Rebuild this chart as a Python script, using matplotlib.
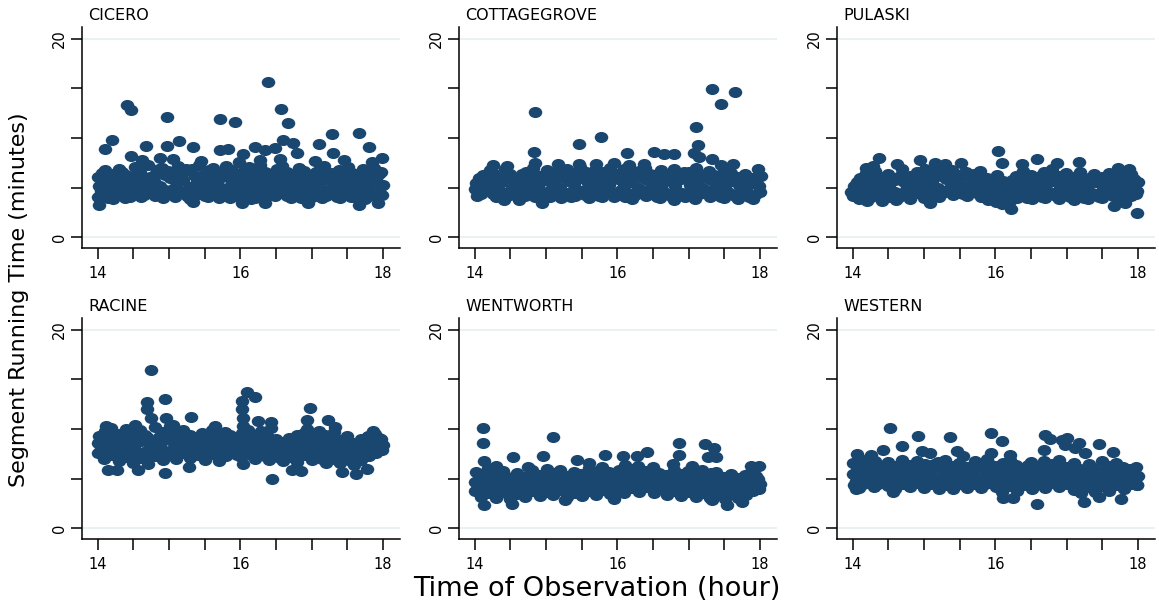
import numpy as np
import matplotlib
matplotlib.use("Agg")
import matplotlib.pyplot as plt
from matplotlib.path import Path
from matplotlib.transforms import Affine2D

STATIONS = ["CICERO", "COTTAGEGROVE", "PULASKI", "RACINE", "WENTWORTH", "WESTERN"]

# (hour of observation, segment running time in minutes)
CICERO = [
    (14.01, 4.0), (14.02, 5.2), (14.00, 6.1), (14.08, 4.4), (14.12, 5.6), (14.10, 6.8),
    (14.21, 3.8), (14.19, 5.0), (14.22, 6.4), (14.29, 4.2), (14.31, 5.8), (14.30, 6.9),
    (14.38, 3.9), (14.42, 5.3), (14.40, 6.3), (14.51, 4.3), (14.49, 5.5), (14.52, 7.1),
    (14.61, 4.0), (14.58, 5.9), (14.60, 6.6), (14.69, 4.5), (14.72, 5.1), (14.71, 7.3),
    (14.80, 4.1), (14.79, 5.7), (14.82, 6.5), (14.91, 3.9), (14.88, 5.2), (14.90, 7.0),
    (15.01, 4.4), (15.02, 6.0), (14.99, 6.7), (15.09, 4.0), (15.11, 5.4), (15.12, 7.2),
    (15.21, 4.6), (15.19, 5.8), (15.18, 6.4), (15.30, 3.8), (15.29, 5.1), (15.32, 6.9),
    (15.41, 4.3), (15.39, 5.6), (15.42, 7.3), (15.50, 4.1), (15.52, 5.3), (15.48, 6.3),
    (15.61, 4.5), (15.59, 5.9), (15.62, 7.0), (15.70, 3.9), (15.68, 5.5), (15.72, 6.6),
    (15.79, 4.2), (15.81, 5.0), (15.80, 7.2), (15.91, 4.6), (15.89, 5.7), (15.88, 6.8),
    (16.00, 4.0), (16.02, 5.4), (16.01, 6.3), (16.09, 4.4), (16.11, 6.0), (16.12, 7.1),
    (16.21, 3.9), (16.19, 5.2), (16.20, 6.7), (16.31, 4.3), (16.29, 5.8), (16.28, 7.3),
    (16.40, 4.7), (16.42, 5.5), (16.38, 6.5), (16.49, 4.1), (16.51, 5.1), (16.52, 6.9),
    (16.60, 4.5), (16.61, 5.9), (16.58, 7.2), (16.71, 3.9), (16.69, 5.3), (16.72, 6.4),
    (16.80, 4.2), (16.79, 5.6), (16.82, 7.0), (16.91, 4.6), (16.88, 5.0), (16.90, 6.7),
    (17.01, 4.0), (16.99, 5.7), (17.02, 6.2), (17.09, 4.4), (17.11, 5.3), (17.12, 6.9),
    (17.20, 4.1), (17.21, 5.9), (17.18, 7.2), (17.31, 4.6), (17.29, 5.1), (17.30, 6.5),
    (17.40, 3.9), (17.41, 5.5), (17.38, 6.8), (17.49, 4.3), (17.52, 5.8), (17.51, 7.1),
    (17.60, 4.0), (17.58, 5.2), (17.61, 6.4), (17.71, 4.5), (17.69, 5.7), (17.72, 6.9),
    (17.80, 4.1), (17.79, 5.4), (17.82, 6.3), (17.90, 4.4), (17.91, 5.9), (17.88, 7.0),
    (17.99, 4.2), (18.00, 5.3), (17.98, 6.6),
    (14.05, 4.7), (14.06, 6.5), (14.15, 3.9), (14.14, 6.1), (14.25, 4.6), (14.26, 5.4),
    (14.35, 4.8), (14.34, 6.6), (14.45, 4.0), (14.46, 6.0), (14.55, 4.8), (14.54, 6.3),
    (14.65, 4.2), (14.66, 5.3), (14.75, 4.7), (14.74, 6.1), (14.85, 4.5), (14.86, 6.9),
    (14.95, 4.8), (14.94, 6.3), (15.05, 4.9), (15.06, 5.9), (15.15, 4.7), (15.14, 6.5),
    (15.25, 4.1), (15.24, 6.9), (15.35, 4.6), (15.36, 6.2), (15.45, 4.8), (15.44, 5.9),
    (15.55, 4.0), (15.56, 6.8), (15.65, 4.9), (15.64, 6.2), (15.75, 4.5), (15.74, 6.1),
    (15.85, 3.9), (15.86, 6.4), (15.95, 4.9), (15.94, 6.1), (16.05, 4.6), (16.06, 6.9),
    (16.15, 3.8), (16.14, 5.6), (16.25, 4.6), (16.24, 6.2), (16.35, 4.9), (16.34, 6.6),
    (16.45, 4.2), (16.46, 6.0), (16.55, 4.7), (16.54, 6.3), (16.65, 4.1), (16.66, 6.6),
    (16.75, 4.8), (16.74, 6.0), (16.85, 3.9), (16.86, 6.3), (16.95, 4.9), (16.94, 6.0),
    (17.05, 4.6), (17.06, 6.6), (17.15, 3.9), (17.14, 6.2), (17.25, 4.8), (17.24, 6.5),
    (17.35, 4.0), (17.36, 5.9), (17.45, 4.7), (17.44, 6.3), (17.55, 4.0), (17.56, 6.5),
    (17.65, 4.9), (17.64, 6.1), (17.75, 3.8), (17.74, 6.3), (17.85, 4.8), (17.86, 6.7),
    (17.95, 4.9), (17.94, 6.4),
    (16.39, 15.6), (14.41, 13.3), (14.47, 12.8), (14.97, 12.1), (15.71, 11.9), (15.93, 11.6),
    (16.57, 12.9), (16.67, 11.5), (17.28, 10.4), (17.66, 10.5), (14.20, 9.8), (14.10, 8.9),
    (14.68, 9.2), (15.14, 9.7), (16.60, 9.8), (16.74, 9.5), (17.10, 9.4), (17.80, 9.1),
    (16.20, 9.1), (17.99, 8.0), (14.97, 9.2), (14.47, 8.2), (15.34, 9.1), (15.71, 8.8),
    (15.83, 8.9), (16.04, 8.4), (16.35, 8.8), (16.48, 9.0), (17.30, 8.5), (16.80, 8.5),
    (14.02, 3.2), (16.35, 3.4), (17.67, 3.2), (17.93, 3.4), (16.95, 3.4), (16.02, 3.4),
    (15.33, 3.5), (14.62, 7.8), (15.05, 7.9), (15.45, 7.7), (15.98, 7.6), (16.55, 7.9),
    (17.05, 7.7), (17.45, 7.8), (17.85, 7.6), (14.88, 8.0), (16.28, 7.8),
]

COTTAGEGROVE = [
    (14.00, 4.9), (14.03, 4.1), (14.02, 5.5), (14.09, 4.3), (14.11, 5.4), (14.12, 6.3),
    (14.21, 4.7), (14.19, 5.9), (14.22, 6.8), (14.30, 4.0), (14.29, 5.2), (14.31, 6.1),
    (14.41, 3.7), (14.39, 5.6), (14.42, 6.9), (14.50, 4.2), (14.52, 5.0), (14.49, 6.4),
    (14.59, 4.5), (14.61, 5.8), (14.62, 3.7), (14.71, 4.1), (14.69, 5.3), (14.72, 6.6),
    (14.80, 4.4), (14.79, 5.7), (14.82, 7.0), (14.91, 4.0), (14.89, 5.1), (14.90, 6.2),
    (15.01, 4.6), (15.00, 5.9), (15.02, 6.8), (15.10, 4.2), (15.09, 5.4), (15.12, 6.5),
    (15.21, 3.9), (15.19, 5.0), (15.20, 6.1), (15.30, 4.5), (15.31, 5.7), (15.29, 6.9),
    (15.41, 4.1), (15.39, 5.3), (15.42, 6.4), (15.50, 4.7), (15.51, 6.0), (15.48, 7.1),
    (15.61, 3.9), (15.59, 5.5), (15.60, 6.3), (15.70, 4.4), (15.72, 5.1), (15.69, 6.8),
    (15.79, 4.0), (15.81, 5.8), (15.80, 6.6), (15.91, 4.6), (15.89, 5.3), (15.90, 7.0),
    (16.00, 4.2), (16.01, 5.9), (16.02, 6.4), (16.11, 4.0), (16.09, 5.2), (16.10, 6.9),
    (16.20, 3.8), (16.19, 5.6), (16.21, 6.2), (16.31, 4.5), (16.29, 5.0), (16.30, 6.7),
    (16.40, 4.1), (16.41, 5.8), (16.39, 7.0), (16.51, 4.6), (16.49, 5.4), (16.50, 6.3),
    (16.60, 3.9), (16.61, 5.1), (16.62, 6.8), (16.70, 4.3), (16.69, 5.7), (16.71, 6.4),
    (16.80, 3.7), (16.81, 5.2), (16.79, 6.9), (16.91, 4.5), (16.89, 5.9), (16.90, 6.1),
    (17.00, 4.1), (17.02, 5.3), (17.01, 6.6), (17.09, 3.8), (17.11, 5.6), (17.10, 7.0),
    (17.21, 4.4), (17.19, 5.0), (17.20, 6.3), (17.30, 4.0), (17.31, 5.8), (17.29, 6.7),
    (17.41, 4.6), (17.39, 5.4), (17.40, 6.2), (17.50, 3.9), (17.51, 5.1), (17.49, 6.9),
    (17.61, 4.3), (17.59, 5.7), (17.60, 6.5), (17.70, 3.8), (17.71, 5.3), (17.69, 6.1),
    (17.80, 4.5), (17.81, 5.0), (17.79, 6.4), (17.91, 3.8), (17.89, 5.5), (17.90, 6.0),
    (18.00, 4.6), (17.99, 5.2), (18.01, 6.2),
    (14.05, 4.5), (14.06, 6.0), (14.15, 4.8), (14.14, 5.9), (14.25, 4.3), (14.26, 6.5),
    (14.35, 4.7), (14.34, 6.0), (14.45, 4.4), (14.46, 6.2), (14.55, 4.8), (14.54, 5.9),
    (14.65, 4.1), (14.66, 6.4), (14.75, 4.7), (14.74, 6.1), (14.85, 4.0), (14.86, 6.3),
    (14.95, 4.5), (14.94, 5.7), (15.05, 4.0), (15.06, 6.2), (15.15, 4.8), (15.14, 6.0),
    (15.25, 4.4), (15.24, 6.6), (15.35, 4.0), (15.36, 6.2), (15.45, 4.6), (15.44, 5.9),
    (15.55, 4.2), (15.56, 6.6), (15.65, 4.7), (15.64, 6.0), (15.75, 4.1), (15.74, 6.4),
    (15.85, 4.7), (15.86, 6.1), (15.95, 4.0), (15.94, 6.5), (16.05, 4.8), (16.06, 6.0),
    (16.15, 4.5), (16.14, 6.3), (16.25, 4.2), (16.24, 6.6), (16.35, 4.8), (16.34, 6.0),
    (16.45, 4.4), (16.46, 6.4), (16.55, 4.0), (16.54, 5.9), (16.65, 4.6), (16.66, 6.2),
    (16.75, 4.1), (16.74, 6.0), (16.85, 4.5), (16.86, 6.4), (16.95, 4.0), (16.94, 6.6),
    (17.05, 4.7), (17.06, 6.0), (17.15, 4.3), (17.14, 6.4), (17.25, 4.8), (17.24, 6.0),
    (17.35, 4.4), (17.36, 6.3), (17.45, 4.0), (17.46, 5.9), (17.55, 4.6), (17.56, 6.4),
    (17.65, 4.1), (17.64, 6.0), (17.75, 4.6), (17.74, 5.8), (17.85, 4.0), (17.86, 5.9),
    (17.95, 4.3), (17.94, 5.6),
    (17.33, 14.9), (17.65, 14.6), (17.46, 13.4), (14.84, 12.6), (17.10, 11.1), (15.77, 10.1),
    (15.46, 9.4), (17.13, 9.3), (14.83, 8.6), (16.13, 8.5), (16.52, 8.6), (16.65, 8.4),
    (16.80, 8.4), (17.08, 8.5), (17.15, 8.1), (17.33, 7.9), (14.94, 3.4), (14.25, 7.3),
    (14.45, 7.2), (14.84, 7.5), (15.17, 7.4), (15.47, 7.4), (15.70, 7.4), (15.95, 7.5),
    (16.17, 7.3), (16.38, 7.4), (17.45, 7.3), (17.62, 7.4), (17.97, 6.9),
]

PULASKI = [
    (13.98, 4.6), (14.02, 5.2), (14.01, 4.1), (14.09, 3.8), (14.11, 5.0), (14.10, 6.0),
    (14.20, 3.6), (14.21, 4.7), (14.19, 6.5), (14.30, 4.2), (14.29, 5.5), (14.31, 6.7),
    (14.41, 3.6), (14.39, 4.9), (14.42, 6.1), (14.50, 4.0), (14.51, 5.3), (14.49, 6.4),
    (14.61, 3.7), (14.59, 4.6), (14.60, 5.8), (14.70, 4.3), (14.72, 5.6), (14.69, 6.9),
    (14.80, 3.8), (14.79, 5.0), (14.81, 6.2), (14.91, 4.4), (14.89, 5.8), (14.90, 6.6),
    (15.00, 3.9), (15.02, 5.2), (15.01, 6.9), (15.10, 4.5), (15.11, 5.6), (15.09, 6.3),
    (15.21, 4.0), (15.19, 5.0), (15.20, 7.0), (15.30, 4.6), (15.31, 5.9), (15.29, 6.5),
    (15.40, 4.2), (15.41, 5.3), (15.39, 6.8), (15.51, 4.7), (15.49, 5.7), (15.50, 6.2),
    (15.60, 4.1), (15.61, 5.1), (15.59, 6.6), (15.71, 4.6), (15.69, 5.6), (15.70, 6.4),
    (15.80, 4.0), (15.81, 5.2), (15.79, 6.7), (15.90, 3.7), (15.91, 4.8), (15.89, 6.0),
    (16.01, 3.5), (16.00, 4.5), (16.02, 6.3), (16.10, 3.3), (16.09, 4.9), (16.11, 5.7),
    (16.21, 3.6), (16.19, 4.4), (16.20, 5.5), (16.30, 3.9), (16.31, 5.1), (16.29, 6.2),
    (16.40, 4.4), (16.41, 5.6), (16.39, 6.7), (16.51, 3.8), (16.49, 5.0), (16.50, 6.3),
    (16.60, 4.3), (16.62, 5.4), (16.61, 6.0), (16.70, 3.9), (16.71, 4.9), (16.69, 6.6),
    (16.81, 4.5), (16.79, 5.7), (16.80, 6.9), (16.90, 3.8), (16.91, 5.1), (16.89, 6.2),
    (17.00, 4.4), (17.01, 5.5), (16.99, 6.5), (17.11, 3.7), (17.09, 4.8), (17.10, 6.1),
    (17.20, 4.2), (17.21, 5.3), (17.19, 6.6), (17.30, 3.8), (17.29, 5.0), (17.31, 6.0),
    (17.40, 4.3), (17.41, 5.6), (17.39, 6.4), (17.50, 3.9), (17.51, 4.9), (17.49, 6.1),
    (17.61, 4.4), (17.59, 5.4), (17.60, 6.5), (17.70, 4.0), (17.71, 5.1), (17.69, 6.3),
    (17.80, 4.6), (17.81, 5.5), (17.79, 6.6), (17.91, 4.1), (17.89, 5.2), (17.90, 6.4),
    (17.99, 4.7), (18.00, 5.6), (17.98, 4.3),
    (14.05, 4.4), (14.06, 5.6), (14.15, 4.2), (14.14, 5.5), (14.25, 4.0), (14.26, 5.9),
    (14.35, 4.7), (14.34, 6.0), (14.45, 4.3), (14.46, 5.7), (14.55, 4.6), (14.54, 5.9),
    (14.65, 4.0), (14.66, 6.2), (14.75, 4.8), (14.74, 6.0), (14.85, 4.3), (14.86, 5.6),
    (14.95, 4.7), (14.94, 6.1), (15.05, 4.2), (15.06, 6.0), (15.15, 4.9), (15.14, 6.6),
    (15.25, 4.4), (15.24, 6.2), (15.35, 4.9), (15.36, 6.3), (15.45, 4.5), (15.44, 6.0),
    (15.55, 4.3), (15.56, 6.5), (15.65, 4.8), (15.64, 6.1), (15.75, 4.4), (15.74, 6.0),
    (15.85, 4.5), (15.86, 5.8), (15.95, 4.0), (15.94, 5.6), (16.05, 3.9), (16.06, 5.4),
    (16.15, 4.0), (16.14, 5.2), (16.25, 4.0), (16.24, 5.8), (16.35, 4.5), (16.34, 6.0),
    (16.45, 3.9), (16.46, 6.1), (16.55, 4.4), (16.54, 5.7), (16.65, 4.0), (16.66, 6.3),
    (16.75, 4.4), (16.74, 5.9), (16.85, 4.1), (16.86, 6.2), (16.95, 4.5), (16.94, 5.8),
    (17.05, 4.0), (17.06, 6.0), (17.15, 4.5), (17.14, 5.7), (17.25, 3.9), (17.24, 5.9),
    (17.35, 4.4), (17.36, 5.6), (17.45, 4.0), (17.46, 5.9), (17.55, 4.5), (17.56, 5.7),
    (17.65, 4.1), (17.64, 6.0), (17.75, 4.5), (17.74, 5.8), (17.85, 4.2), (17.86, 6.0),
    (17.95, 4.6), (17.94, 5.9),
    (16.04, 8.7), (16.58, 7.9), (17.17, 7.6), (14.37, 8.0), (17.99, 2.4), (16.22, 2.8),
    (17.67, 3.1), (17.82, 3.4), (15.09, 3.4), (14.95, 7.8), (15.16, 7.5), (15.52, 7.5),
    (16.87, 7.5), (17.72, 7.0), (17.87, 6.9), (16.37, 7.4), (14.62, 7.4), (16.10, 7.5),
    (15.30, 7.4), (14.18, 7.0), (14.28, 7.2),
]

RACINE = [
    (14.00, 7.6), (14.01, 8.6), (14.02, 9.3), (14.09, 7.0), (14.11, 8.2), (14.10, 9.8),
    (14.20, 7.4), (14.21, 8.9), (14.19, 10.1), (14.30, 6.8), (14.29, 8.0), (14.31, 9.5),
    (14.41, 7.2), (14.39, 8.7), (14.40, 10.0), (14.50, 6.6), (14.51, 8.3), (14.49, 9.6),
    (14.60, 7.1), (14.61, 8.8), (14.59, 9.9), (14.70, 6.5), (14.71, 7.9), (14.69, 9.2),
    (14.80, 7.3), (14.79, 8.5), (14.81, 10.2), (14.91, 6.9), (14.89, 8.1), (14.90, 9.7),
    (15.00, 7.5), (15.01, 8.9), (15.02, 10.3), (15.10, 7.0), (15.09, 8.4), (15.11, 9.6),
    (15.21, 7.6), (15.19, 8.7), (15.20, 9.9), (15.30, 7.1), (15.31, 8.0), (15.29, 9.4),
    (15.40, 7.4), (15.41, 8.6), (15.39, 9.2), (15.50, 6.9), (15.51, 8.2), (15.49, 9.5),
    (15.61, 7.5), (15.59, 8.8), (15.60, 9.9), (15.70, 6.8), (15.69, 8.1), (15.71, 9.3),
    (15.80, 7.3), (15.81, 8.5), (15.79, 9.7), (15.90, 7.7), (15.91, 8.9), (15.89, 9.1),
    (16.01, 7.2), (16.00, 8.3), (16.02, 9.6), (16.10, 7.6), (16.09, 8.7), (16.11, 9.9),
    (16.21, 7.0), (16.19, 8.1), (16.20, 9.4), (16.30, 7.4), (16.31, 8.6), (16.29, 9.8),
    (16.40, 6.9), (16.41, 8.0), (16.39, 9.2), (16.51, 7.3), (16.49, 8.4), (16.50, 9.0),
    (16.60, 6.8), (16.61, 7.8), (16.59, 8.7), (16.70, 7.2), (16.71, 8.2), (16.69, 9.1),
    (16.80, 6.7), (16.81, 8.0), (16.79, 9.4), (16.90, 7.4), (16.91, 8.5), (16.89, 9.6),
    (17.00, 6.9), (17.01, 8.1), (16.99, 9.2), (17.11, 7.3), (17.09, 8.6), (17.10, 9.8),
    (17.20, 6.6), (17.21, 7.8), (17.19, 9.4), (17.30, 7.1), (17.29, 8.3), (17.31, 9.7),
    (17.40, 6.6), (17.41, 7.6), (17.39, 8.9), (17.51, 7.0), (17.49, 8.1), (17.50, 9.3),
    (17.60, 6.4), (17.61, 7.5), (17.59, 8.6), (17.70, 6.9), (17.71, 7.9), (17.69, 9.0),
    (17.80, 7.3), (17.81, 8.4), (17.79, 9.3), (17.90, 7.6), (17.91, 8.7), (17.89, 9.5),
    (17.99, 7.9), (18.00, 8.4), (17.98, 9.0),
    (14.05, 8.0), (14.06, 9.1), (14.15, 7.6), (14.14, 9.2), (14.25, 7.8), (14.26, 9.5),
    (14.35, 7.4), (14.34, 8.9), (14.45, 7.8), (14.46, 9.3), (14.55, 7.4), (14.54, 9.0),
    (14.65, 7.7), (14.66, 9.4), (14.75, 7.3), (14.74, 8.6), (14.85, 7.8), (14.86, 9.2),
    (14.95, 7.5), (14.94, 9.0), (15.05, 8.0), (15.06, 9.4), (15.15, 7.6), (15.14, 9.0),
    (15.25, 7.9), (15.24, 9.3), (15.35, 7.6), (15.36, 8.8), (15.45, 8.0), (15.46, 9.6),
    (15.55, 7.5), (15.56, 8.8), (15.65, 8.1), (15.64, 9.3), (15.75, 7.5), (15.74, 8.7),
    (15.85, 8.0), (15.86, 9.4), (15.95, 7.4), (15.94, 8.6), (16.05, 7.9), (16.06, 9.1),
    (16.15, 7.4), (16.14, 8.4), (16.25, 7.7), (16.24, 8.9), (16.35, 7.3), (16.34, 9.2),
    (16.45, 7.6), (16.46, 8.7), (16.55, 7.1), (16.54, 8.4), (16.65, 7.5), (16.66, 8.6),
    (16.75, 7.3), (16.74, 8.8), (16.85, 7.8), (16.86, 9.0), (16.95, 7.5), (16.94, 8.7),
    (17.05, 7.6), (17.06, 8.8), (17.15, 7.0), (17.14, 8.3), (17.25, 7.4), (17.24, 8.8),
    (17.35, 6.9), (17.36, 8.2), (17.45, 7.3), (17.46, 8.6), (17.55, 6.8), (17.56, 8.0),
    (17.65, 7.2), (17.66, 8.4), (17.75, 7.7), (17.74, 8.8), (17.85, 8.0), (17.86, 9.0),
    (17.95, 8.2), (17.94, 9.1),
    (14.75, 16.0), (14.95, 13.0), (14.69, 12.7), (14.69, 12.0), (14.75, 11.1), (15.31, 11.2),
    (16.09, 13.7), (16.20, 13.2), (16.03, 12.8), (16.03, 12.0), (16.04, 11.1), (16.04, 10.3),
    (16.25, 10.8), (16.43, 10.7), (16.43, 10.1), (16.98, 12.1), (16.93, 10.9), (16.93, 10.0),
    (17.23, 10.9), (14.96, 11.1), (16.44, 5.0), (14.14, 5.9), (14.27, 5.9), (14.94, 5.6),
    (14.56, 5.9), (17.62, 5.5), (17.42, 5.7), (17.78, 6.0), (16.85, 5.8), (16.72, 5.9),
    (16.04, 6.5), (15.28, 6.2), (14.53, 10.4), (14.12, 10.3), (15.05, 10.4), (15.65, 10.3),
    (17.33, 10.2), (17.86, 9.8),
]

WENTWORTH = [
    (14.00, 3.7), (14.01, 4.7), (14.02, 5.7), (14.09, 3.1), (14.11, 4.3), (14.10, 5.5),
    (14.20, 3.5), (14.21, 4.9), (14.19, 6.1), (14.30, 3.0), (14.29, 4.1), (14.31, 5.3),
    (14.41, 3.6), (14.39, 4.6), (14.40, 5.8), (14.50, 2.9), (14.51, 4.0), (14.49, 5.1),
    (14.60, 3.4), (14.61, 4.5), (14.59, 5.6), (14.70, 3.1), (14.71, 4.2), (14.69, 5.2),
    (14.80, 3.7), (14.79, 4.8), (14.81, 5.9), (14.91, 3.2), (14.89, 4.3), (14.90, 5.4),
    (15.00, 3.6), (15.01, 4.7), (15.02, 6.0), (15.10, 3.3), (15.09, 4.4), (15.11, 5.6),
    (15.21, 3.8), (15.19, 4.9), (15.20, 5.9), (15.30, 3.1), (15.31, 4.2), (15.29, 5.3),
    (15.40, 3.5), (15.41, 4.6), (15.39, 5.7), (15.50, 3.2), (15.51, 4.1), (15.49, 5.5),
    (15.61, 3.7), (15.59, 4.8), (15.60, 6.1), (15.70, 3.3), (15.69, 4.4), (15.71, 5.6),
    (15.80, 3.8), (15.81, 5.0), (15.79, 6.2), (15.90, 3.4), (15.91, 4.5), (15.89, 5.7),
    (16.01, 3.9), (16.00, 4.9), (16.02, 5.9), (16.10, 3.5), (16.09, 4.6), (16.11, 6.4),
    (16.21, 4.0), (16.19, 5.1), (16.20, 6.0), (16.30, 3.6), (16.31, 4.7), (16.29, 6.3),
    (16.40, 4.1), (16.41, 5.2), (16.39, 5.8), (16.51, 3.5), (16.49, 4.6), (16.50, 6.2),
    (16.60, 3.9), (16.61, 5.0), (16.59, 5.6), (16.70, 3.3), (16.71, 4.4), (16.69, 5.4),
    (16.80, 3.7), (16.81, 4.8), (16.79, 5.9), (16.90, 3.2), (16.91, 4.3), (16.89, 5.5),
    (17.00, 3.6), (17.01, 4.7), (16.99, 5.8), (17.11, 3.1), (17.09, 4.2), (17.10, 5.4),
    (17.20, 3.5), (17.21, 4.6), (17.19, 5.9), (17.30, 3.0), (17.29, 4.1), (17.31, 5.6),
    (17.40, 3.4), (17.41, 4.5), (17.39, 5.7), (17.51, 2.9), (17.49, 4.0), (17.50, 5.2),
    (17.60, 3.4), (17.61, 4.4), (17.59, 5.5), (17.70, 3.0), (17.71, 4.1), (17.69, 5.1),
    (17.80, 3.3), (17.81, 4.5), (17.79, 5.4), (17.90, 3.7), (17.91, 4.8), (17.89, 5.9),
    (17.99, 3.9), (18.00, 4.5), (17.98, 5.0),
    (14.05, 4.2), (14.06, 5.1), (14.15, 3.7), (14.14, 4.9), (14.25, 4.0), (14.26, 5.6),
    (14.35, 3.5), (14.34, 4.7), (14.45, 4.1), (14.46, 5.2), (14.55, 3.5), (14.54, 4.6),
    (14.65, 3.9), (14.66, 5.0), (14.75, 3.6), (14.74, 4.7), (14.85, 4.2), (14.86, 5.3),
    (14.95, 3.7), (14.94, 4.9), (15.05, 4.1), (15.06, 5.3), (15.15, 3.8), (15.14, 5.0),
    (15.25, 4.3), (15.24, 5.4), (15.35, 3.6), (15.36, 4.8), (15.45, 4.0), (15.46, 5.2),
    (15.55, 3.7), (15.56, 4.9), (15.65, 4.2), (15.64, 5.4), (15.75, 3.8), (15.74, 5.1),
    (15.85, 4.4), (15.86, 5.5), (15.95, 3.9), (15.94, 5.2), (16.05, 4.4), (16.06, 5.5),
    (16.15, 4.1), (16.14, 5.3), (16.25, 4.5), (16.24, 5.6), (16.35, 4.1), (16.34, 5.4),
    (16.45, 4.6), (16.46, 5.7), (16.55, 4.0), (16.54, 5.3), (16.65, 4.4), (16.66, 5.4),
    (16.75, 3.8), (16.74, 5.0), (16.85, 4.3), (16.86, 5.3), (16.95, 3.7), (16.94, 4.9),
    (17.05, 4.1), (17.06, 5.2), (17.15, 3.6), (17.14, 4.8), (17.25, 4.0), (17.24, 5.2),
    (17.35, 3.5), (17.36, 4.7), (17.45, 3.9), (17.46, 5.0), (17.55, 3.4), (17.56, 4.7),
    (17.65, 3.8), (17.66, 4.9), (17.75, 3.5), (17.74, 4.6), (17.85, 3.9), (17.86, 5.0),
    (17.95, 4.2), (17.94, 5.3),
    (14.11, 10.1), (14.12, 8.6), (15.10, 9.2), (16.86, 8.6), (16.86, 7.4), (17.23, 8.5),
    (17.35, 8.1), (17.39, 7.2), (17.27, 7.2), (16.41, 7.7), (15.83, 7.4), (16.08, 7.3),
    (16.27, 7.3), (14.96, 7.3), (14.54, 7.2), (15.44, 6.9), (14.13, 6.8), (16.78, 6.5),
    (17.99, 6.3), (17.87, 6.3), (14.13, 2.35), (14.53, 2.4), (17.54, 2.35), (17.33, 2.8),
    (15.27, 2.8), (17.75, 2.65), (15.95, 2.9), (14.30, 6.3), (14.75, 6.2), (15.60, 6.6),
    (17.05, 6.3),
]

WESTERN = [
    (14.00, 5.5), (14.02, 4.3), (14.01, 6.6), (14.09, 4.0), (14.11, 5.2), (14.10, 7.0),
    (14.20, 4.6), (14.21, 5.8), (14.19, 6.5), (14.30, 4.1), (14.29, 5.3), (14.31, 6.8),
    (14.41, 4.7), (14.39, 5.9), (14.40, 6.2), (14.50, 4.2), (14.51, 5.4), (14.49, 6.7),
    (14.60, 3.9), (14.61, 5.1), (14.59, 6.3), (14.70, 4.5), (14.71, 5.7), (14.69, 6.9),
    (14.80, 4.1), (14.79, 5.3), (14.81, 6.4), (14.91, 4.6), (14.89, 5.9), (14.90, 6.8),
    (15.00, 4.0), (15.01, 5.2), (15.02, 6.5), (15.10, 4.5), (15.09, 5.6), (15.11, 6.1),
    (15.21, 3.9), (15.19, 5.0), (15.20, 6.7), (15.30, 4.3), (15.31, 5.5), (15.29, 6.9),
    (15.40, 3.9), (15.41, 5.1), (15.39, 6.3), (15.50, 4.4), (15.51, 5.7), (15.49, 6.6),
    (15.61, 4.0), (15.59, 5.3), (15.60, 6.2), (15.70, 4.5), (15.69, 5.8), (15.71, 6.8),
    (15.80, 4.0), (15.81, 5.0), (15.79, 6.4), (15.90, 4.6), (15.91, 5.6), (15.89, 7.0),
    (16.01, 4.1), (16.00, 5.2), (16.02, 6.3), (16.10, 3.6), (16.09, 4.8), (16.11, 6.6),
    (16.21, 4.2), (16.19, 5.5), (16.20, 6.9), (16.30, 3.7), (16.31, 5.0), (16.29, 6.4),
    (16.40, 4.3), (16.41, 5.6), (16.39, 6.1), (16.51, 3.9), (16.49, 5.1), (16.50, 6.7),
    (16.60, 4.4), (16.61, 5.7), (16.59, 6.3), (16.70, 4.0), (16.71, 5.2), (16.69, 6.8),
    (16.80, 4.6), (16.81, 5.8), (16.79, 6.5), (16.90, 4.1), (16.91, 5.3), (16.89, 6.9),
    (17.00, 4.5), (17.01, 5.6), (16.99, 6.2), (17.11, 3.8), (17.09, 5.0), (17.10, 6.6),
    (17.20, 3.5), (17.21, 4.7), (17.19, 6.0), (17.30, 4.1), (17.29, 5.4), (17.31, 6.5),
    (17.40, 3.6), (17.41, 4.9), (17.39, 6.1), (17.51, 4.2), (17.49, 5.5), (17.50, 6.8),
    (17.60, 3.7), (17.61, 5.0), (17.59, 6.3), (17.70, 4.3), (17.71, 5.6), (17.69, 6.6),
    (17.80, 3.9), (17.81, 5.1), (17.79, 6.2), (17.90, 4.5), (17.91, 5.7), (17.89, 6.0),
    (17.99, 4.3), (18.00, 5.3), (17.98, 6.2),
    (14.05, 4.8), (14.06, 6.0), (14.15, 4.5), (14.14, 6.3), (14.25, 5.1), (14.26, 6.2),
    (14.35, 4.5), (14.34, 6.0), (14.45, 5.0), (14.46, 6.4), (14.55, 4.7), (14.54, 6.0),
    (14.65, 4.5), (14.66, 5.8), (14.75, 5.0), (14.74, 6.3), (14.85, 4.6), (14.86, 6.0),
    (14.95, 5.1), (14.94, 6.2), (15.05, 4.6), (15.06, 5.9), (15.15, 5.0), (15.14, 6.5),
    (15.25, 4.4), (15.24, 6.0), (15.35, 4.8), (15.36, 6.2), (15.45, 4.4), (15.44, 5.8),
    (15.55, 5.0), (15.56, 6.1), (15.65, 4.6), (15.64, 5.8), (15.75, 5.1), (15.74, 6.3),
    (15.85, 4.5), (15.86, 5.9), (15.95, 4.9), (15.94, 6.4), (16.05, 4.6), (16.06, 5.8),
    (16.15, 4.2), (16.14, 5.7), (16.25, 4.8), (16.24, 6.1), (16.35, 4.3), (16.34, 5.7),
    (16.45, 4.8), (16.46, 6.4), (16.55, 4.5), (16.54, 5.9), (16.65, 5.0), (16.66, 6.2),
    (16.75, 4.6), (16.74, 6.0), (16.85, 5.1), (16.86, 6.1), (16.95, 4.7), (16.94, 6.0),
    (17.05, 5.0), (17.06, 6.3), (17.15, 4.3), (17.14, 5.8), (17.25, 4.1), (17.24, 5.4),
    (17.35, 4.6), (17.36, 5.9), (17.45, 4.2), (17.46, 5.6), (17.55, 4.8), (17.56, 6.1),
    (17.65, 4.3), (17.66, 5.6), (17.75, 4.9), (17.74, 6.1), (17.85, 4.4), (17.86, 5.6),
    (17.95, 4.8), (17.94, 5.7),
    (14.52, 10.1), (14.91, 9.3), (15.37, 9.2), (15.94, 9.6), (16.10, 8.8), (16.70, 9.4),
    (16.77, 9.0), (16.93, 8.9), (17.00, 9.1), (16.98, 8.4), (17.17, 8.6), (17.12, 8.1),
    (17.46, 8.5), (17.26, 7.6), (17.65, 7.7), (14.69, 8.3), (14.43, 7.9), (14.97, 7.8),
    (15.09, 7.6), (15.47, 7.8), (15.94, 7.6), (16.69, 7.9), (14.06, 7.5), (16.58, 2.4),
    (17.24, 2.6), (17.99, 4.3), (17.76, 2.9), (17.46, 3.1), (16.11, 3.0), (16.25, 3.0),
    (14.57, 3.6), (14.05, 3.9), (15.55, 7.3), (16.20, 7.4), (14.25, 7.4),
]

POINTS = [CICERO, COTTAGEGROVE, PULASKI, RACINE, WENTWORTH, WESTERN]

X_TICKS = [14, 14.5, 15, 15.5, 16, 16.5, 17, 17.5, 18]
X_LABELS = ["14", "", "", "", "16", "", "", "", "18"]
Y_TICKS = [0, 5, 10, 15, 20]
Y_LABELS = ["0", "", "", "", "20"]

NAVY = "#1a476f"
GRID = "#e6eff1"

W, H = 1159, 606
fig = plt.figure(figsize=(W / 100, H / 100), dpi=100)

# slightly flattened dot, like the stretched circles of the original export
dot = Path.unit_circle().transformed(Affine2D().scale(1.0, 0.82))

lefts = [82, 459, 837]
tops = [27, 318]
aw, ah = 318, 221

for i, (name, pts) in enumerate(zip(STATIONS, POINTS)):
    r, c = divmod(i, 3)
    ax = fig.add_axes([lefts[c] / W, 1 - (tops[r] + ah) / H, aw / W, ah / H])
    hours = np.array([p[0] for p in pts])
    mins = np.array([p[1] for p in pts])

    for yg in (0, 20):
        ax.axhline(yg, color=GRID, lw=1.2, zorder=0)
    ax.scatter(hours, mins, marker=dot, s=95, color=NAVY, linewidths=0, zorder=2)

    ax.set_xlim(13.78, 18.24)
    ax.set_ylim(-1.1, 21.2)
    ax.set_xticks(X_TICKS)
    ax.set_xticklabels(X_LABELS)
    ax.set_yticks(Y_TICKS)
    ax.set_yticklabels(Y_LABELS, rotation=90, va="center")
    ax.tick_params(length=8, width=1.1, color="black", labelsize=10.5, pad=5)
    ax.tick_params(axis="y", pad=3)
    for side in ("top", "right"):
        ax.spines[side].set_visible(False)
    for side in ("left", "bottom"):
        ax.spines[side].set_linewidth(1.1)
    ax.text(0.019, 1.05, name, transform=ax.transAxes, fontsize=11.5,
            ha="left", va="center")

fig.text(19 / W, 1 - 300 / H, "Segment Running Time (minutes)", rotation=90,
         fontsize=16, ha="center", va="center")
fig.text(597 / W, 1 - 589 / H, "Time of Observation (hour)",
         fontsize=19.5, ha="center", va="center")

fig.savefig("out.png", dpi=100, facecolor="white")
